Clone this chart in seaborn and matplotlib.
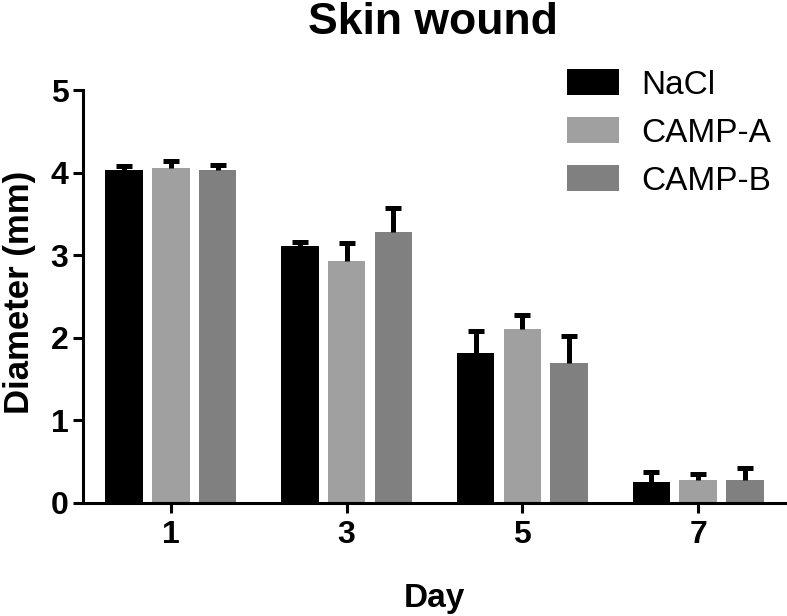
import matplotlib
matplotlib.use("Agg")
import matplotlib.pyplot as plt
import seaborn as sns
import pandas as pd
import numpy as np

# ---- data ----
days = ["1", "3", "5", "7"]
groups = ["NaCl", "CAMP-A", "CAMP-B"]
nacl_mean = [4.03, 3.11, 1.82, 0.25]
nacl_err = [0.05, 0.05, 0.26, 0.13]
campa_mean = [4.05, 2.93, 2.11, 0.28]
campa_err = [0.09, 0.22, 0.17, 0.07]
campb_mean = [4.03, 3.28, 1.70, 0.28]
campb_err = [0.06, 0.29, 0.32, 0.14]
colors = ["#000000", "#a0a0a0", "#808080"]

means = [nacl_mean, campa_mean, campb_mean]
errs = [nacl_err, campa_err, campb_err]

rows = []
for g, m in zip(groups, means):
    for d, v in zip(days, m):
        rows.append({"Day": d, "Diameter": v, "Group": g})
df = pd.DataFrame(rows)

sns.set_style("ticks", {"text.color": "black", "axes.labelcolor": "black",
                        "xtick.color": "black", "ytick.color": "black",
                        "axes.edgecolor": "black"})
plt.rcParams["font.family"] = ["Liberation Sans", "DejaVu Sans"]

fig = plt.figure(figsize=(7.87, 6.16), dpi=100)
ax = fig.add_axes([83 / 787, 1 - 503 / 616, 703 / 787, 413 / 616])

sns.barplot(data=df, x="Day", y="Diameter", hue="Group", order=days,
            hue_order=groups, palette=colors, errorbar=None, gap=0.2,
            linewidth=0, ax=ax)

for cont, err in zip(ax.containers, errs):
    xs = [b.get_x() + b.get_width() / 2 for b in cont]
    ys = [b.get_height() for b in cont]
    eb = ax.errorbar(xs, ys, yerr=[np.zeros(len(err)), err], fmt="none",
                     ecolor="black", elinewidth=3.6, capsize=5.8,
                     capthick=3.6, zorder=5)
    eb[1][0].set_visible(False)

ax.set_ylim(0, 5)
ax.set_xlim(-0.5, 3.5)
ax.set_yticks([0, 1, 2, 3, 4, 5])
sns.despine(ax=ax)
for s in ["left", "bottom"]:
    ax.spines[s].set_linewidth(2.2)
    ax.spines[s].set_color("black")
ax.tick_params(axis="both", length=7.5, width=2.2, labelsize=23, pad=3,
               colors="black")
ax.tick_params(axis="x", pad=5)
for lab in ax.get_xticklabels() + ax.get_yticklabels():
    lab.set_fontweight("bold")

ax.set_ylabel("Diameter (mm)", fontsize=25, fontweight="bold", va="center",
              color="black")
ax.yaxis.set_label_coords(-0.09, 0.51)
ax.set_xlabel("Day", fontsize=24, fontweight="bold", va="center",
              color="black")
ax.xaxis.set_label_coords(0.5, -0.232)

fig.text(433 / 787, 1 - 22 / 616, "Skin wound", fontsize=32,
         fontweight="bold", ha="center", va="center", color="black")

sns.move_legend(ax, "upper left", bbox_to_anchor=(567 / 787, 1 - 69 / 616),
                bbox_transform=fig.transFigure, frameon=False, title=None,
                fontsize=24, handlelength=1.55, handleheight=0.82,
                handletextpad=0.67, labelspacing=0.5, borderpad=0,
                borderaxespad=0)
for t in ax.get_legend().get_texts():
    t.set_color("black")

fig.savefig("out.png", dpi=100)
